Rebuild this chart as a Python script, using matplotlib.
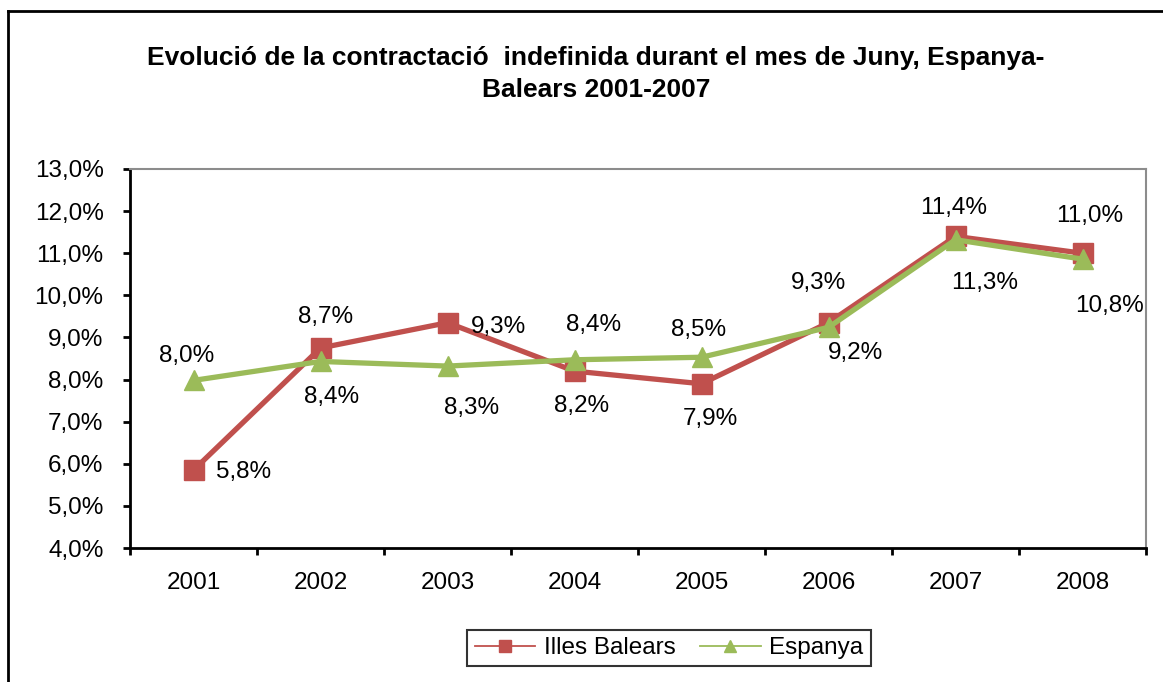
import matplotlib
matplotlib.use("Agg")
import matplotlib.pyplot as plt
from matplotlib.lines import Line2D

plt.rcParams['font.family'] = ['Liberation Sans', 'DejaVu Sans']

years = ["2001", "2002", "2003", "2004", "2005", "2006", "2007", "2008"]
balears = [5.85, 8.75, 9.35, 8.20, 7.90, 9.35, 11.40, 11.00]
espanya = [7.98, 8.43, 8.32, 8.47, 8.53, 9.24, 11.32, 10.86]
balears_labels = ["5,8%", "8,7%", "9,3%", "8,2%", "7,9%", "9,3%", "11,4%", "11,0%"]
espanya_labels = ["8,0%", "8,4%", "8,3%", "8,4%", "8,5%", "9,2%", "11,3%", "10,8%"]
yticks = [4, 5, 6, 7, 8, 9, 10, 11, 12, 13]
title = "Evolució de la contractació  indefinida durant el mes de Juny, Espanya-\nBalears 2001-2007"

# label offsets (pixels)
bal_off = [(50, -2), (5, 31), (51, -4), (7, -35), (9, -35), (-10, 40), (-2, 28), (7, 37)]
esp_off = [(-7, 24), (11, -36), (24, -42), (19, 35), (-3, 27), (27, -26), (29, -43), (27, -47)]

red = "#C0504D"
green = "#9BBB59"
fs = 17.5

fig = plt.figure(figsize=(11.63, 6.82), dpi=100)
ax = fig.add_axes([130 / 1163, 1 - 548 / 682, (1146 - 130) / 1163, (548 - 169) / 682])

x = [i + 0.5 for i in range(len(years))]
ax.plot(x, balears, color=red, lw=3.8, marker='s', ms=14, label="Illes Balears", zorder=3)
ax.plot(x, espanya, color=green, lw=3.8, marker='^', ms=15, label="Espanya", zorder=4)

for xi, v, t, o in zip(x, balears, balears_labels, bal_off):
    ax.annotate(t, (xi, v), xytext=o, textcoords='offset pixels', ha='center', va='center', fontsize=fs)
for xi, v, t, o in zip(x, espanya, espanya_labels, esp_off):
    ax.annotate(t, (xi, v), xytext=o, textcoords='offset pixels', ha='center', va='center', fontsize=fs)

ax.set_xlim(0, len(years))
ax.set_ylim(4, 13)
ax.set_yticks(yticks)
ax.set_yticklabels([f"{t},0%" for t in yticks], fontsize=fs)
ax.set_xticks(range(len(years) + 1))
ax.set_xticklabels([])
ax.set_xticks(x, minor=True)
ax.set_xticklabels(years, minor=True, fontsize=fs)
ax.tick_params(axis='x', which='minor', length=0, pad=17)
ax.tick_params(axis='x', which='major', direction='out', length=5, width=2)
ax.tick_params(axis='y', direction='out', length=5, width=2, pad=14)

for s in ['left', 'bottom']:
    ax.spines[s].set_color('black')
    ax.spines[s].set_linewidth(2)
for s in ['top', 'right']:
    ax.spines[s].set_color('#8c8c8c')
    ax.spines[s].set_linewidth(1.5)

fig.text(596 / 1163, 1 - 74 / 682, title, ha='center', va='center', fontsize=19,
         fontweight='bold', linespacing=1.4)

leg = fig.legend(loc='center', bbox_to_anchor=(669 / 1163, 1 - 648 / 682), ncol=2,
                 fontsize=fs, frameon=True, fancybox=False, edgecolor='black',
                 handlelength=2.5, columnspacing=1.0, borderpad=0.3, handletextpad=0.35)
leg.get_frame().set_linewidth(1.5)
for h in leg.legend_handles:
    h.set_linewidth(1.3)
    h.set_markersize(9)

# outer border (partially visible)
fig.add_artist(Line2D([8 / 1163, 8 / 1163], [0, 1 - 11 / 682], color='black', lw=2, transform=fig.transFigure))
fig.add_artist(Line2D([8 / 1163, 1], [1 - 11 / 682, 1 - 11 / 682], color='black', lw=2, transform=fig.transFigure))

fig.savefig("out.png", dpi=100)
